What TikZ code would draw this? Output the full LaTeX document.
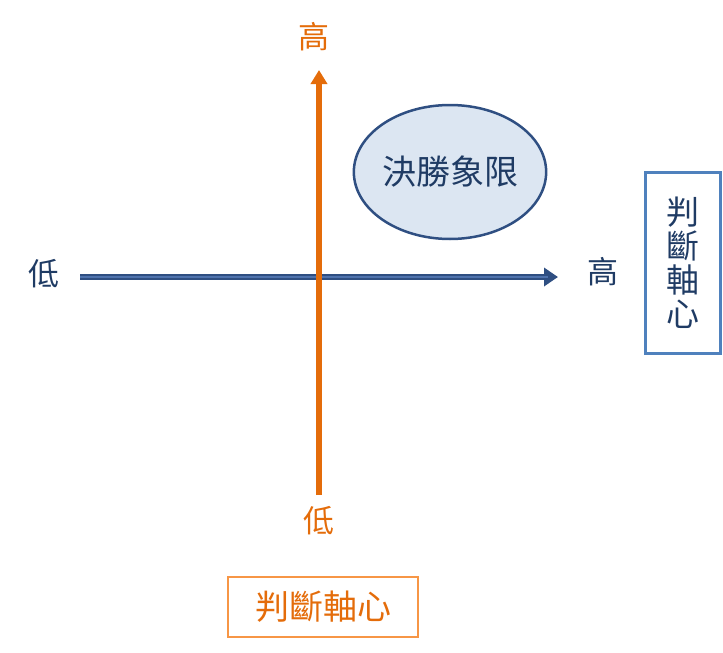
\documentclass[tikz,border=0pt]{standalone}
\usepackage{fontspec}
\newfontfamily\cjk{Noto Sans CJK TC}
\usetikzlibrary{positioning, arrows.meta, shapes.geometric}
\definecolor{axblue}{HTML}{2F4F82}
\definecolor{axlight}{HTML}{4F73AD}
\definecolor{axorange}{HTML}{E46C0A}
\definecolor{boxorange}{HTML}{F79646}
\definecolor{boxblue}{HTML}{4F81BD}
\definecolor{txtblue}{HTML}{1F3B64}
\definecolor{elfill}{HTML}{DCE6F2}

\begin{document}
\begin{tikzpicture}[
		x=1pt, y=-1pt,
		lbl/.style={font=\cjk\fontsize{31}{36}\selectfont, inner sep=0pt},
		axisbox/.style={draw, line width=2.5pt, inner sep=0pt},
	]
	\useasboundingbox (0,0) rectangle (723,653);
	% axes
	\coordinate (hl) at (80,277);
	\coordinate (hr) at (558,277);
	\coordinate (vb) at (319,495);
	\coordinate (vt) at (319,70);
	\draw[axblue, line width=6pt, -{Triangle[length=14pt, width=18pt]}] (hl) -- (hr);
	\draw[axlight, line width=2pt, shorten >=10pt] (hl) -- (hr);
	\draw[axorange, line width=6pt, -{Triangle[length=14pt, width=16pt]}] (vb) -- (vt);
	% labels
	\node[lbl, text=txtblue] (hlow) at (44,274) {低};
	\node[lbl, text=txtblue] (hhigh) at (603,272) {高};
	\node[lbl, text=axorange] (vhigh) at (314,37) {高};
	\node[lbl, text=axorange] (vlow) at (319,521) {低};
	% quadrant
	\node[ellipse, draw=axblue, line width=2.5pt, fill=elfill, minimum width=188pt, minimum height=134pt, lbl, font=\cjk\fontsize{34}{40}\selectfont, text=txtblue] (win) at (450,172) {決勝象限};
	% axis titles
	\node[axisbox, draw=boxblue, minimum width=75pt, minimum height=181pt] (rbox) at (683,263) {};
	\node[lbl, font=\cjk\fontsize{33}{38}\selectfont, text=txtblue, align=center] (rtxt) at (rbox.center) {判\\[-4pt]斷\\[-4pt]軸\\[-4pt]心};
	\node[axisbox, draw=boxorange, minimum width=190pt, minimum height=60pt, lbl, font=\cjk\fontsize{34}{40}\selectfont, text=axorange] (bbox) at (323,607) {判斷軸心};
\end{tikzpicture}
\end{document}
